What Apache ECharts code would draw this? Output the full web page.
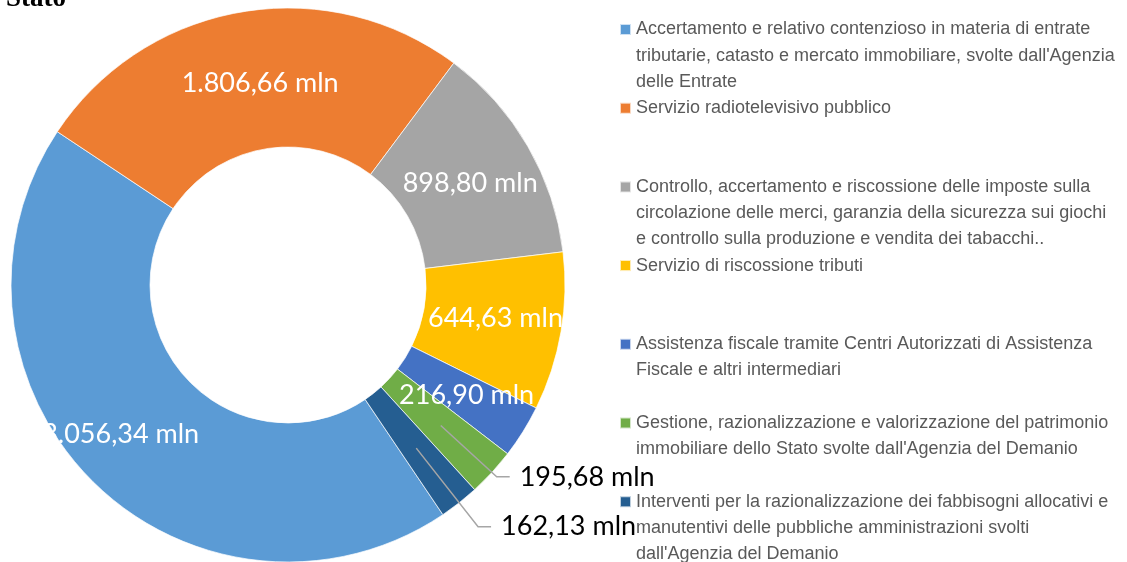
<!DOCTYPE html>
<html>
<head>
    <meta charset="utf-8">
    <title>Stato</title>
    <script src="https://cdn.jsdelivr.net/npm/echarts@6/dist/echarts.min.js"></script>
    <style>
        html, body {margin: 0; padding: 0; background: #fff;}
        #mychart {width: 1127px; height: 562px;}
    </style>
</head>
<body>
<div id="mychart"></div>
<script>
    // legend text, one array of lines per category (the name is the lines joined)
    var categoryLines = [
        ['Accertamento e relativo contenzioso in materia di entrate', "tributarie, catasto e mercato immobiliare, svolte dall'Agenzia", 'delle Entrate'],
        ['Servizio radiotelevisivo pubblico'],
        ['Controllo, accertamento e riscossione delle imposte sulla', 'circolazione delle merci, garanzia della sicurezza sui giochi', 'e controllo sulla produzione e vendita dei tabacchi..'],
        ['Servizio di riscossione tributi'],
        ['Assistenza fiscale tramite Centri Autorizzati di Assistenza', 'Fiscale e altri intermediari'],
        ['Gestione, razionalizzazione e valorizzazione del patrimonio', "immobiliare dello Stato svolte dall'Agenzia del Demanio"],
        ['Interventi per la razionalizzazione dei fabbisogni allocativi e', 'manutentivi delle pubbliche amministrazioni svolti', "dall'Agenzia del Demanio"]
    ];
    var values = [3056.34, 1806.66, 898.80, 644.63, 216.90, 195.68, 162.13];
    var colors = ['#5B9BD5', '#ED7D31', '#A5A5A5', '#FFC000', '#4472C4', '#70AD47', '#255E91'];
    var outsideLabels = [5, 6];     // slices labelled outside with a leader line

    var categories = categoryLines.map(function (l) { return l.join(' '); });

    var cx = 288, cy = 285, r0 = 138, r1 = 277;
    var rMid = (r0 + r1) / 2;
    var lineH = 26.2;

    function fmtIt(v) {
        var p = v.toFixed(2).split('.');
        return p[0].replace(/\B(?=(\d{3})+(?!\d))/g, '.') + ',' + p[1] + ' mln';
    }

    // small nudges of the inside labels, as excel placed them
    var labelNudge = {0: [-19, 0], 1: [8, 6], 2: [0, 4], 3: [0, -2], 4: [0, -1]};

    var pieData = [];
    var guideData = [];
    for (var i = 0; i < values.length; i++) {
        var item = {name: categories[i], value: values[i], itemStyle: {color: colors[i]}};
        var guide = {name: categories[i], value: values[i], label: {show: false}};
        if (labelNudge[i]) {
            item.label = {offset: labelNudge[i]};
        }
        if (outsideLabels.indexOf(i) !== -1) {
            item.label = {show: false};
            guide.label = {show: true};
            guide.labelLine = {show: true, length: i === 5 ? 76 : 100, length2: 13};
        }
        pieData.push(item);
        guideData.push(guide);
    }

    // one legend per entry so every entry sits in its own slot, marker on the first line
    var legends = [];
    for (var j = 0; j < categories.length; j++) {
        var n = categoryLines[j].length;
        var firstLineY = 29.5 + j * 78.7;
        var pad = [];
        for (var k = 1; k < n; k++) pad.push('');
        legends.push({
            data: [categories[j]],
            orient: 'vertical',
            left: 619,
            top: firstLineY - (2 * n - 1) * lineH / 2,
            padding: 0,
            itemWidth: 11,
            itemHeight: 11,
            icon: 'rect',
            selectedMode: false,
            formatter: (function (lines) {
                return function () { return lines.join('\n'); };
            })(pad.concat(categoryLines[j])),
            textStyle: {
                fontFamily: 'Liberation Sans',
                fontSize: 18,
                color: '#595959',
                lineHeight: lineH
            }
        });
    }

    var myChart = echarts.init(document.getElementById('mychart'));
    var option = {
        animation: false,
        title: {
            text: 'Stato',
            left: 6,
            top: -14,
            padding: 0,
            textStyle: {fontFamily: 'Liberation Serif', fontSize: 27, fontWeight: 'bold', color: '#000'}
        },
        legend: legends,
        series: [
            {
                type: 'pie',
                center: [cx, cy],
                radius: [r0, r1],
                startAngle: -56,
                clockwise: true,
                avoidLabelOverlap: false,
                itemStyle: {borderColor: 'rgba(255,255,255,0.7)', borderWidth: 1},
                label: {
                    show: true,
                    position: 'inside',
                    color: '#fff',
                    fontFamily: 'Lato',
                    fontSize: 27,
                    formatter: function (p) { return fmtIt(p.value); }
                },
                labelLine: {show: false},
                data: pieData
            },
            {
                // invisible ring up to mid radius: its leader lines start inside the slice
                type: 'pie',
                center: [cx, cy],
                radius: [r0, rMid],
                startAngle: -56,
                clockwise: true,
                silent: true,
                z: 3,
                avoidLabelOverlap: false,
                itemStyle: {color: 'rgba(0,0,0,0)', borderWidth: 0},
                emphasis: {disabled: true},
                label: {
                    position: 'outside',
                    color: '#000',
                    fontFamily: 'Lato',
                    fontSize: 27,
                    distanceToLabelLine: 10,
                    formatter: function (p) { return fmtIt(p.value); }
                },
                labelLine: {lineStyle: {color: '#A6A6A6', width: 1.5}},
                data: guideData
            }
        ]
    };
    myChart.setOption(option);
</script>
</body>
</html>
